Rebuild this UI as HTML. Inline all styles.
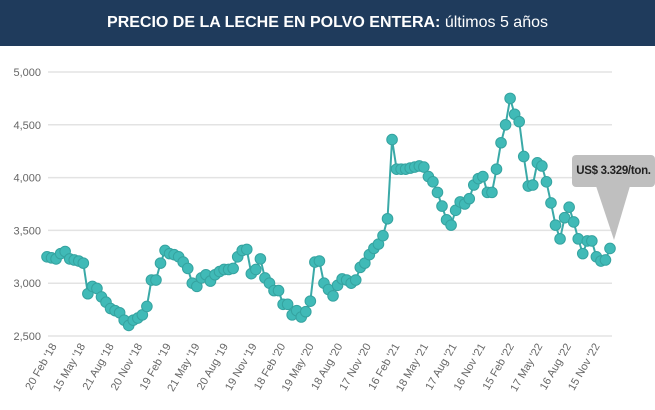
<!DOCTYPE html>
<html><head><meta charset="utf-8">
<style>
body{margin:0;width:655px;height:410px;overflow:hidden;background:#fff;font-family:"Liberation Sans",sans-serif}
#title{position:absolute;left:0;top:0;width:655px;height:46px;background:#1f3b5c;color:#fff;font-size:16px;line-height:46px;text-align:center}
#callout{position:absolute;left:572px;top:155px;width:83px;height:32px;background:#bfbfbf;border-radius:4px;font-size:11.5px;font-weight:bold;color:#222;line-height:32px;text-align:center;white-space:nowrap;letter-spacing:-0.3px}
</style></head><body>
<div id="title"><b>PRECIO DE LA LECHE EN POLVO ENTERA:</b> últimos 5 años</div>
<svg id="chart" width="655" height="410" style="position:absolute;left:0;top:0">
<polygon points="596,186 630,186 614,240" fill="#bfbfbf"/>
</svg>
<div id="callout">US$ 3.329/ton.</div>
<script>
const yTicks=[2500,3000,3500,4000,4500,5000];
const yTickLabels=["2,500","3,000","3,500","4,000","4,500","5,000"];
const xLabels=["20 Feb '18","15 May '18","21 Aug '18","20 Nov '18","19 Feb '19","21 May '19","20 Aug '19","19 Nov '19","18 Feb '20","19 May '20","18 Aug '20","17 Nov '20","16 Feb '21","18 May '21","17 Aug '21","16 Nov '21","15 Feb '22","17 May '22","16 Aug '22","15 Nov '22"];
const prices=[3250,3240,3230,3280,3300,3230,3220,3210,3190,2900,2970,2950,2870,2820,2760,2740,2720,2650,2600,2650,2670,2700,2780,3030,3030,3190,3310,3280,3270,3250,3200,3140,3000,2970,3050,3080,3020,3080,3110,3130,3130,3140,3250,3310,3320,3090,3130,3230,3050,3000,2930,2930,2800,2800,2700,2740,2680,2730,2830,3200,3210,3000,2940,2880,2980,3040,3030,3000,3030,3150,3190,3270,3330,3370,3450,3610,4360,4080,4080,4080,4090,4100,4110,4100,4010,3960,3860,3730,3600,3550,3690,3770,3750,3800,3930,3990,4010,3860,3860,4080,4330,4500,4750,4600,4530,4200,3920,3930,4140,4110,3960,3760,3550,3420,3620,3720,3580,3420,3280,3400,3400,3250,3210,3220,3329];
const NS="http://www.w3.org/2000/svg";
const svg=document.getElementById('chart');
const yScale=v=>336-(v-2500)/2500*264;
const xScale=i=>47+i*(610-47)/(prices.length-1);
const xLab=i=>57+i*(600-57)/(xLabels.length-1);
function mk(t,a){const e=document.createElementNS(NS,t);for(const k in a)e.setAttribute(k,a[k]);svg.appendChild(e);return e;}
yTicks.forEach((v,i)=>{
 const g=mk('line',{x1:48,x2:612,y1:yScale(v),y2:yScale(v),stroke:'#e3e3e3','stroke-width':1.5});
 
 
 const t=mk('text',{x:41,y:yScale(v)+4,'text-anchor':'end','font-size':11,fill:'#666'});
 t.textContent=yTickLabels[i];
 
 
});
xLabels.forEach((l,i)=>{
 const x=xLab(i),y=346;
 const t=mk('text',{x:x,y:y,'text-anchor':'end','font-size':11,fill:'#666',transform:`rotate(-60 ${x} ${y})`});
 t.textContent=l;
 
 
});
const line=mk('polyline',{points:prices.map((v,i)=>xScale(i)+','+yScale(v)).join(' '),fill:'none',stroke:'#3aa9a7','stroke-width':2});


prices.forEach((v,i)=>{
 const c=mk('circle',{cx:xScale(i),cy:yScale(v),r:5.3,fill:'#40bab7',stroke:'#35a3a0','stroke-width':1});
 
 
});
svg.appendChild(svg.querySelector('polygon'));
</script>
</body></html>
